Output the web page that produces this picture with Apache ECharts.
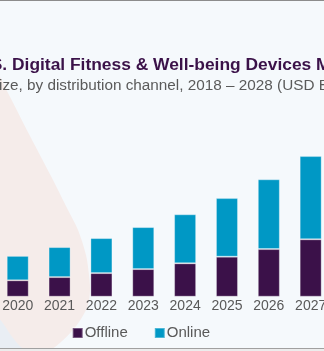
<!DOCTYPE html>
<html>
<head>
<meta charset="utf-8">
<script src="https://cdn.jsdelivr.net/npm/echarts@6/dist/echarts.min.js"></script>
<style>
html,body{margin:0;padding:0;background:#f5f9fc;}
#c{width:324px;height:351px;}
</style>
</head>
<body>
<div id="c"></div>
<script>
// ---- data ----
const years = ['2020', '2021', '2022', '2023', '2024', '2025', '2026', '2027'];
const offline = [0.82, 0.98, 1.18, 1.38, 1.67, 2.00, 2.38, 2.87];
const online = [1.22, 1.50, 1.75, 2.10, 2.45, 2.93, 3.49, 4.16];
const seriesNames = ['Offline', 'Online'];
const titleText = 'U.S. Digital Fitness & Well-being Devices Market';
const subtitleText = 'Market size, by distribution channel, 2018 \u2013 2028 (USD Billion)';

// ---- layout helpers ----
const TITLE_FONT = 'bold 17.4px "Liberation Sans Narrow", "Liberation Sans", Arial, sans-serif';
const SUB_FONT = '15.3px "Liberation Sans", Arial, sans-serif';
const mctx = document.createElement('canvas').getContext('2d');
function w(font, s) { mctx.font = font; return mctx.measureText(s).width; }
const titleX = 12 - w(TITLE_FONT, 'U.S. ');
const subX = -1 - w(SUB_FONT, 'Market s');

const blob = [[-60, 0], [-2, 74], [8, 93], [30, 136], [53, 180], [68, 210], [78, 230], [86, 255],
  [89, 275], [90, 290], [88, 305], [81, 319], [72, 331], [61, 342], [52, 349], [40, 353],
  [25, 350], [18, 344], [10, 334], [2, 322], [-20, 300], [-60, 250]];

const chart = echarts.init(document.getElementById('c'), null, {renderer: 'canvas'});
const option = {
  backgroundColor: '#f5f9fc',
  animation: false,
  graphic: [
    {type: 'rect', z: -11, silent: true, shape: {x: 0, y: 300, width: 30, height: 51}, style: {fill: '#e9eef4'}},
    {type: 'polygon', z: -10, silent: true, shape: {points: blob, smooth: 0.3}, style: {fill: '#f5ecea'}},
    {type: 'rect', z: -5, silent: true, shape: {x: 0, y: 0, width: 324, height: 1}, style: {fill: '#8c8c8c'}},
    {type: 'rect', z: -5, silent: true, shape: {x: 0, y: 348, width: 324, height: 1}, style: {fill: '#a0a0a0'}},
    {type: 'rect', z: -5, silent: true, shape: {x: 0, y: 349, width: 324, height: 2}, style: {fill: '#ececec'}},
    {type: 'text', left: titleX, top: 57, z: 10,
      style: {text: titleText, font: TITLE_FONT, fill: '#3b1249'}},
    {type: 'text', left: subX, top: 78.5, z: 10,
      style: {text: subtitleText, font: SUB_FONT, fill: '#5a5a5a'}}
  ],
  legend: {
    data: seriesNames,
    left: 71.7, top: 325.5, padding: 0,
    itemWidth: 10, itemHeight: 10, itemGap: 26,
    icon: 'rect',
    textStyle: {fontFamily: 'Liberation Sans, Arial, sans-serif', fontSize: 15, color: '#595959', padding: [0, 0, 0, -3]}
  },
  grid: {left: -3.2, top: 96.7, width: 334.8, height: 200, containLabel: false, outerBoundsMode: 'none'},
  xAxis: {
    type: 'category', data: years,
    axisLine: {show: false}, axisTick: {show: false},
    axisLabel: {color: '#595959', fontSize: 14, fontFamily: 'Liberation Sans Narrow, Arial, sans-serif', margin: 2}
  },
  yAxis: {type: 'value', min: 0, max: 10, show: false, splitLine: {show: false}},
  series: [
    {name: seriesNames[0], type: 'bar', stack: 'total', data: offline, barWidth: 22,
      itemStyle: {color: '#3b1149', borderColor: 'rgba(255,255,255,0.3)', borderWidth: 1}},
    {name: seriesNames[1], type: 'bar', stack: 'total', data: online, barWidth: 22,
      itemStyle: {color: '#0098c5', borderColor: 'rgba(255,255,255,0.3)', borderWidth: 1}}
  ]
};
chart.setOption(option);
</script>
</body>
</html>
